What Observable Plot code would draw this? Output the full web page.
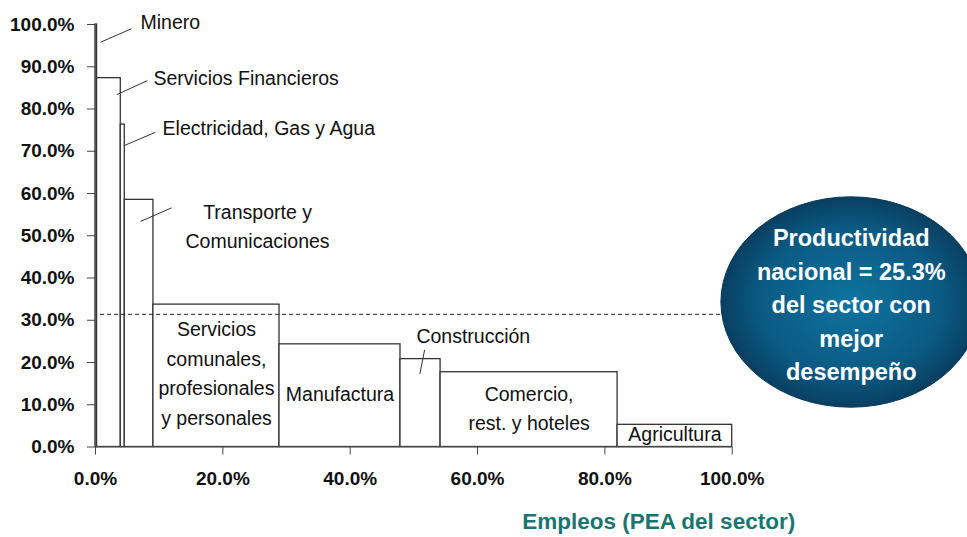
<!DOCTYPE html>
<html><head><meta charset="utf-8">
<script src="https://cdn.jsdelivr.net/npm/d3@7"></script>
<script src="https://cdn.jsdelivr.net/npm/@observablehq/plot@0.6"></script>
<style>body{margin:0;background:#fff;} svg{display:block}</style>
</head><body><div id="chart"></div>
<script>
// ---- data ----
const sectors = ["Minero","Servicios Financieros","Electricidad, Gas y Agua","Transporte y Comunicaciones","Servicios comunales, profesionales y personales","Manufactura","Construcción","Comercio, rest. y hoteles","Agricultura"];
const employmentShare = [0.25, 3.72, 0.63, 4.5, 19.8, 19.0, 6.3, 27.8, 18.0]; // % of PEA (bar widths)
const productivity = [100, 87.3, 76.3, 58.5, 33.7, 24.3, 20.8, 17.7, 5.25];   // % (bar heights)
const yTicks = [0,10,20,30,40,50,60,70,80,90,100];
const xTicks = [0,20,40,60,80,100];
const nationalLevel = 31.4;
const xTitle = "Empleos (PEA del sector)";
const bubbleText = "Productividad\nnacional = 25.3%\ndel sector con\nmejor\ndesempeño";

// annotations (in data coordinates)
const innerLabels = [
  {i: 4, text: "Servicios\ncomunales,\nprofesionales\ny personales", y: 18.0},
  {i: 5, text: "Manufactura", y: 13.1},
  {i: 7, text: "Comercio,\nrest. y hoteles", y: 9.7},
  {i: 8, text: "Agricultura", y: 3.6}
];
const calloutLabels = [
  {text: "Minero", tx: 7.07, ty: 100.5, anchor: "start", x1: 0.79, y1: 95.8, x2: 5.66, y2: 99.0},
  {text: "Servicios Financieros", tx: 9.11, ty: 87.2, anchor: "start", x1: 3.35, y1: 83.4, x2: 8.12, y2: 86.7},
  {text: "Electricidad, Gas y Agua", tx: 10.53, ty: 75.4, anchor: "start", x1: 4.6, y1: 71.4, x2: 9.43, y2: 74.5},
  {text: "Transporte y\nComunicaciones", tx: 25.45, ty: 52.7, anchor: "middle", x1: 7.07, y1: 53.4, x2: 11.94, y2: 56.6},
  {text: "Construcción", tx: 50.4, ty: 26.2, anchor: "start", x1: 50.95, y1: 17.3, x2: 51.69, y2: 23.0}
];
const bubble = {x: 118.7, y: 34.2, rx: 20.4, ry: 24.9};

// ---- build table ----
let acc = 0;
const bars = sectors.map((s, i) => {
  const x1 = acc; acc += employmentShare[i];
  return {sector: s, x1, x2: acc, value: productivity[i]};
});
innerLabels.forEach(d => d.x = (bars[d.i].x1 + bars[d.i].x2) / 2);

const font = "'Liberation Sans', Arial, sans-serif";

function bubbleMark(index, scales) {
  const g = d3.create("svg:g");
  const grad = g.append("defs").append("radialGradient").attr("id", "bubGrad")
    .attr("cx", "50%").attr("cy", "50%").attr("r", "50%");
  grad.append("stop").attr("offset", "0%").attr("stop-color", "#0e73a0");
  grad.append("stop").attr("offset", "70%").attr("stop-color", "#0b5a83");
  grad.append("stop").attr("offset", "100%").attr("stop-color", "#093f60");
  const cx = scales.x(bubble.x), cy = scales.y(bubble.y);
  g.append("ellipse")
    .attr("cx", cx).attr("cy", cy)
    .attr("rx", scales.x(bubble.x + bubble.rx) - cx)
    .attr("ry", cy - scales.y(bubble.y + bubble.ry))
    .attr("fill", "url(#bubGrad)")
    .attr("stroke", "#0a3a58").attr("stroke-width", 1);
  return g.node();
}

const chart = Plot.plot({
  width: 967,
  height: 537,
  marginLeft: 95,
  marginRight: 235.3,
  marginTop: 24,
  marginBottom: 90.5,
  style: {fontFamily: font, background: "#fff", color: "#111", overflow: "visible"},
  x: {domain: [0, 100]},
  y: {domain: [0, 100]},
  marks: [
    Plot.axisY({ticks: yTicks, tickFormat: d => d.toFixed(1) + "%", tickSize: 8, tickPadding: 13,
      fontSize: 19, fontWeight: "bold", stroke: "#444", label: null}),
    Plot.axisX({ticks: xTicks, tickFormat: d => d.toFixed(1) + "%", tickSize: 8, tickPadding: 16,
      fontSize: 19, fontWeight: "bold", stroke: "#444", label: null}),
    Plot.rect(bars, {x1: "x1", x2: "x2", y1: 0, y2: "value", fill: "#fff", stroke: "#333", strokeWidth: 1.3}),
    Plot.ruleY([nationalLevel], {x1: 0.8, x2: 105, stroke: "#222", strokeWidth: 1, strokeDasharray: "4,3"}),
    Plot.ruleX([0], {stroke: "#555", strokeWidth: 1.2}),
    Plot.ruleY([0], {stroke: "#555", strokeWidth: 1.2}),
    Plot.text(innerLabels, {x: "x", y: "y", text: "text", fontSize: 19.5, lineHeight: 1.52, fill: "#111"}),
    Plot.link(calloutLabels, {x1: "x1", y1: "y1", x2: "x2", y2: "y2", stroke: "#333", strokeWidth: 1}),
    Plot.text(calloutLabels.filter(d => d.anchor === "start"), {x: "tx", y: "ty", text: "text", textAnchor: "start", fontSize: 19.5, fill: "#111"}),
    Plot.text(calloutLabels.filter(d => d.anchor === "middle"), {x: "tx", y: "ty", text: "text", textAnchor: "middle", fontSize: 19.5, lineHeight: 1.5, fill: "#111"}),
    bubbleMark,
    Plot.text([bubbleText], {x: bubble.x, y: bubble.y, text: d => d, fontSize: 23.5, fontWeight: "bold", lineHeight: 1.43, fill: "#fff"}),
    Plot.text([xTitle], {x: 88.45, y: -17.6, text: d => d, fontSize: 22.5, fontWeight: "bold", fill: "#1a7470"})
  ]
});
document.getElementById("chart").appendChild(chart);
</script>
</body></html>
